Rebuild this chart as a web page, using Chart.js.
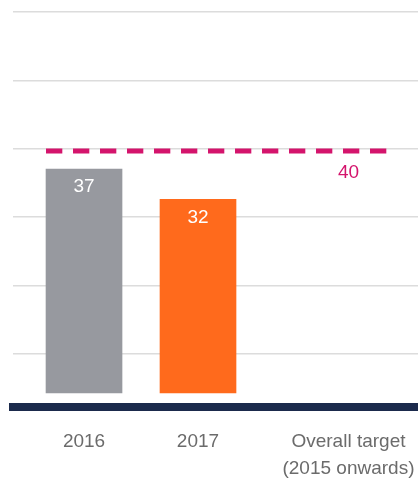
<!DOCTYPE html>
<html>
<head>
<meta charset="utf-8">
<script src="https://cdn.jsdelivr.net/npm/chart.js@4.4.1/dist/chart.umd.min.js"></script>
<style>
  html, body { margin: 0; padding: 0; background: #fff; }
  #wrap { width: 418px; height: 482px; position: relative; }
</style>
</head>
<body>
<div id="wrap"><canvas id="targetCanvas"></canvas></div>
<script>
var years = ['2016', '2017'];
var yearValues = [37, 32];
var targetValue = 40;
var targetLabel = ['Overall target', '(2015 onwards)'];
var barColors = ['#97999f', '#ff6a1c'];

var TargetChart = {
    init : function () {
        this.canvas = document.getElementById('targetCanvas');
        this.barWidth = 76;
        this.fontFamily = "'Liberation Sans', Arial, sans-serif";
        // target column sits a little further out than the year columns
        this.targetSlot = years.length + 0.32;
        this.render();
    },
    tickLabel : function (i) {
        return i < years.length ? years[i] : targetLabel;
    },
    render : function () {
        var base = this;
        Chart.defaults.font.family = base.fontFamily;
        base.chartObject = new Chart(base.canvas, {
            type: 'bar',
            data: {
                datasets: [{
                    data: yearValues.map(function (v, i) { return {x: i, y: v}; }),
                    backgroundColor: barColors,
                    barThickness: base.barWidth
                }]
            },
            options: {
                responsive: true,
                maintainAspectRatio: false,
                animation: false,
                layout: { padding: { top: 12, left: 13, right: 0, bottom: 0 } },
                plugins: {
                    legend: { display: false },
                    tooltip: { enabled: false }
                },
                scales: {
                    x: {
                        type: 'linear',
                        offset: false,
                        min: -0.623,
                        max: 2.93,
                        grid: { display: true, offset: false, drawOnChartArea: false, color: 'rgba(0,0,0,0)', tickLength: 22 },
                        border: { color: '#1b2a4c', width: 8 },
                        afterBuildTicks: function (axis) {
                            axis.ticks = [0, 1, base.targetSlot].map(function (v) { return {value: v}; });
                        },
                        ticks: {
                            padding: 0,
                            autoSkip: false,
                            maxRotation: 0,
                            color: '#6b6b6b',
                            font: { size: 19, lineHeight: 1.4 },
                            callback: function (v, i) { return base.tickLabel(i); }
                        }
                    },
                    y: {
                        min: -2.3,
                        max: 63,
                        ticks: { display: false },
                        border: { display: false },
                        grid: { color: '#dcdcdc', lineWidth: 1.5, drawTicks: false },
                        afterBuildTicks: function (axis) {
                            // decorative guide lines, evenly spaced down from the top
                            var t = [];
                            for (var k = 0; k < 6; k++) t.push({value: axis.max - k * 11.3});
                            axis.ticks = t;
                        }
                    }
                }
            },
            plugins: [{
                id: 'targetOverlay',
                afterDatasetsDraw: function (chart) { base.drawOverlay(chart); }
            }]
        });
    },
    drawOverlay : function (chart) {
        var ctx = chart.ctx;
        var meta = chart.getDatasetMeta(0);
        var xScale = chart.scales.x, yScale = chart.scales.y;
        ctx.save();
        ctx.font = '19px ' + this.fontFamily;
        ctx.textAlign = 'center';
        ctx.textBaseline = 'middle';
        ctx.fillStyle = '#ffffff';
        meta.data.forEach(function (bar, i) {
            ctx.fillText(String(yearValues[i]), bar.x, bar.y + 18);
        });

        var ty = yScale.getPixelForValue(targetValue);
        var tx = xScale.getPixelForValue(this.targetSlot);
        var first = meta.data[0];
        ctx.strokeStyle = '#d4146c';
        ctx.lineWidth = 5;
        ctx.setLineDash([16.3, 10.7]);
        ctx.beginPath();
        ctx.moveTo(first.x - first.width / 2, ty);
        ctx.lineTo(tx + this.barWidth / 2, ty);
        ctx.stroke();

        ctx.fillStyle = '#d4146c';
        ctx.fillText(String(targetValue), tx, ty + 22);
        ctx.restore();
    }
};

TargetChart.init();
</script>
</body>
</html>
